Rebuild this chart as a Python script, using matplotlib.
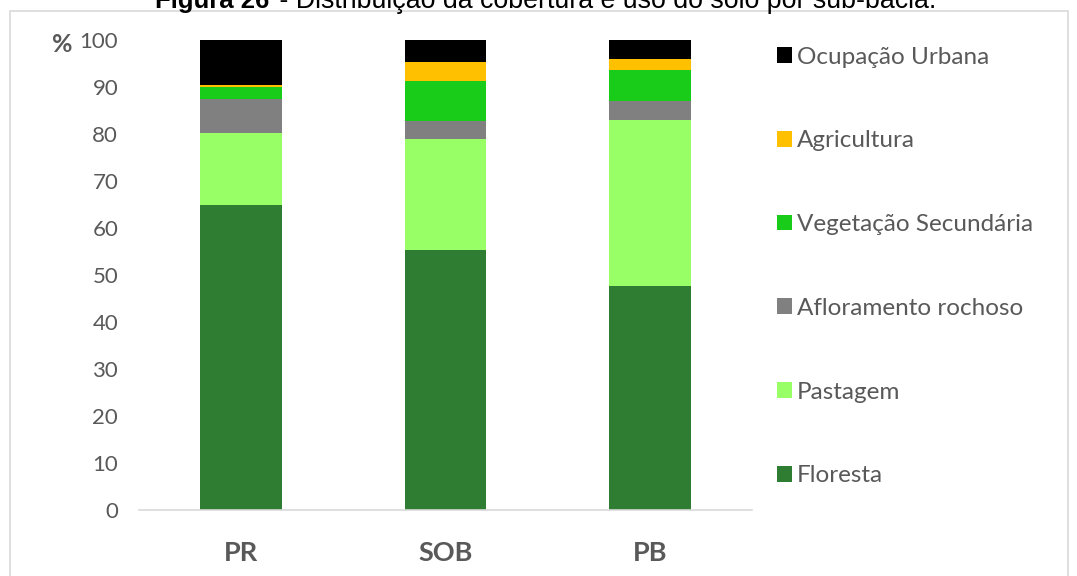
import matplotlib
matplotlib.use("Agg")
import matplotlib.pyplot as plt
from matplotlib.patches import Patch, Rectangle

# sub-bacias e classes de uso do solo (%)
bacias = ["PR", "SOB", "PB"]
classes = ["Floresta", "Pastagem", "Afloramento rochoso",
           "Vegetação Secundária", "Agricultura", "Ocupação Urbana"]
floresta = [64.9, 55.3, 47.7]
pastagem = [15.3, 23.6, 35.3]
afloramento = [7.3, 3.9, 4.0]
veg_secundaria = [2.6, 8.5, 6.7]
agricultura = [0.3, 4.0, 2.3]
urbana = [9.6, 4.7, 4.0]
yticks = [0, 10, 20, 30, 40, 50, 60, 70, 80, 90, 100]

series = [floresta, pastagem, afloramento, veg_secundaria, agricultura, urbana]
cores = ["#2E7D32", "#99FF66", "#808080", "#1ACC1A", "#FFC000", "#000000"]
texto = "#595959"

plt.rcParams['font.family'] = ['Lato', 'DejaVu Sans']

fig = plt.figure(figsize=(10.77, 5.76), dpi=100)
ax = fig.add_axes([139 / 1077, 66 / 576, 613 / 1077, 470 / 576])

x = range(len(bacias))
base = [0, 0, 0]
for vals, cor, nome in zip(series, cores, classes):
    ax.bar(x, vals, width=0.4, bottom=base, color=cor, label=nome, linewidth=0)
    base = [b + v for b, v in zip(base, vals)]

ax.set_xlim(-0.5, 2.5)
ax.set_ylim(0, 100)
ax.set_yticks(yticks)
ax.set_xticks(list(x))
ax.set_xticklabels(bacias, fontsize=19.5, fontweight="bold", color=texto)
ax.tick_params(axis="y", labelsize=16, labelcolor=texto, length=0, pad=15)
ax.tick_params(axis="x", length=0, pad=22)
for s in ["top", "right", "left"]:
    ax.spines[s].set_visible(False)
ax.spines["bottom"].set_color("#D9D9D9")
ax.spines["bottom"].set_linewidth(1.2)

fig.text(62 / 1077, 1 - 45 / 576, "%", fontsize=18, fontweight="bold",
         color=texto, ha="center", va="center")

# legenda (ordem invertida, como no original)
handles = [Patch(facecolor=c, label=n) for c, n in zip(cores, classes)][::-1]
fig.legend(handles=handles, loc="upper left",
           bbox_to_anchor=(767 / 1077, 1 - 37 / 576), frameon=False,
           fontsize=17.5, labelcolor=texto, handlelength=0.62, handleheight=0.62,
           handletextpad=0.22, labelspacing=2.58, borderaxespad=0)

# moldura da figura
fig.patches.append(Rectangle((10 / 1077, -0.1), 1058 / 1077, 1.1 - 11 / 576,
                             transform=fig.transFigure, fill=False,
                             edgecolor="#D9D9D9", linewidth=1.2))

# título (cortado no topo, como na imagem)
fig.text(155 / 1077, 1 - 8 / 576, "Figura 26", fontsize=18.5, fontweight="bold",
         family="Liberation Sans", ha="left", va="baseline")
fig.text(272 / 1077, 1 - 8 / 576, " - Distribuição da cobertura e uso do solo por sub-bacia.",
         fontsize=19.3, family="Liberation Sans", ha="left", va="baseline")

fig.savefig("out.png", dpi=100)
